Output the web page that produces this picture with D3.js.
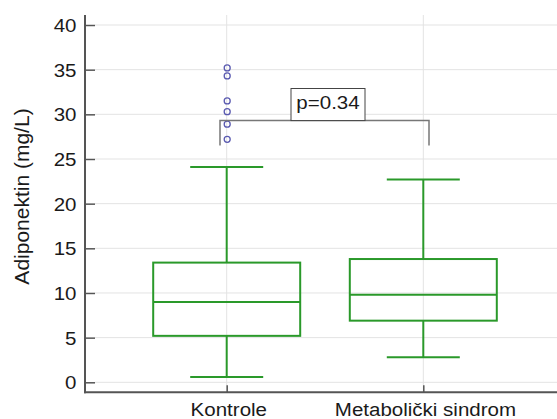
<!DOCTYPE html>
<html><head><meta charset="utf-8">
<script src="https://cdn.jsdelivr.net/npm/d3@7"></script>
<style>body{margin:0;background:#fff}svg{display:block}text{font-family:"Liberation Sans",Arial,sans-serif}</style>
</head><body>
<svg id="c" width="557" height="419"></svg>
<script>
const categories = ["Kontrole", "Metabolički sindrom"];
const whiskerLow = [0.6, 2.8];
const q1 = [5.2, 6.9];
const median = [9.0, 9.8];
const q3 = [13.4, 13.8];
const whiskerHigh = [24.1, 22.7];
const outliersKontrole = [35.2, 34.3, 31.5, 30.3, 28.9, 27.2];
const yTicks = [0, 5, 10, 15, 20, 25, 30, 35, 40];
const pLabel = "p=0.34";
const bracketTop = 29.3, bracketBottom = 26.5;

(function () {
const svg = d3.select("#c");
const y = d3.scaleLinear().domain([0, 40]).range([382.3, 25]);
const x = d3.scalePoint().domain(categories).range([226.7, 423.3]);
const pLeft = 85, pRight = 557, pBottom = 392.3, pTop = 15;
const fs = 19, sx = 1.08, txt = "#1a1a1a";

// grid
svg.append("g").selectAll("line").data(yTicks).join("line")
  .attr("x1", 95).attr("x2", pRight).attr("y1", d => y(d)).attr("y2", d => y(d))
  .attr("stroke", "#e3e3e3").attr("stroke-width", 1);
svg.append("g").selectAll("line").data(categories).join("line")
  .attr("x1", d => x(d)).attr("x2", d => x(d)).attr("y1", pTop).attr("y2", pBottom)
  .attr("stroke", "#e3e3e3").attr("stroke-width", 1);

// axes
const yAxis = svg.append("g").attr("transform", `translate(${pLeft},0)`)
  .call(d3.axisRight(y).tickValues(yTicks).tickSize(10).tickFormat(d3.format("d")));
yAxis.select(".domain").remove();
yAxis.selectAll(".tick line").attr("stroke", "#555").attr("stroke-width", 1.5);
yAxis.selectAll(".tick text").attr("x", -8.5 / sx).attr("text-anchor", "end")
  .attr("transform", `scale(${sx},1)`)
  .attr("font-size", fs).attr("fill", txt).attr("dy", "0.35em");
svg.append("line").attr("x1", pLeft).attr("x2", pLeft).attr("y1", pTop).attr("y2", pBottom + 1)
  .attr("stroke", "#555").attr("stroke-width", 2);

const xAxis = svg.append("g").attr("transform", `translate(0,${pBottom})`)
  .call(d3.axisTop(x).tickSize(7));
xAxis.select(".domain").remove();
xAxis.selectAll(".tick line").attr("stroke", "#555").attr("stroke-width", 1.5);
xAxis.selectAll(".tick text").attr("y", 24).attr("dy", 0).attr("x", 1.5)
  .attr("transform", `scale(${sx},1)`)
  .attr("font-size", fs).attr("fill", txt);
svg.append("line").attr("x1", pLeft - 1).attr("x2", pRight).attr("y1", pBottom).attr("y2", pBottom)
  .attr("stroke", "#555").attr("stroke-width", 2);

// y label
svg.append("text").attr("transform", "translate(28.5,196.5) rotate(-90)")
  .attr("text-anchor", "middle").attr("font-size", 21).attr("fill", txt)
  .text("Adiponektin (mg/L)");

// boxes
const green = "#2a992a";
const boxHalf = 73.5, capHalf = 36.5;
const g = svg.append("g").attr("stroke", green).attr("stroke-width", 2).attr("fill", "none");
categories.forEach((c, i) => {
  const cx = x(c);
  g.append("line").attr("x1", cx).attr("x2", cx).attr("y1", y(whiskerLow[i])).attr("y2", y(q1[i]));
  g.append("line").attr("x1", cx).attr("x2", cx).attr("y1", y(q3[i])).attr("y2", y(whiskerHigh[i]));
  g.append("line").attr("x1", cx - capHalf).attr("x2", cx + capHalf).attr("y1", y(whiskerLow[i])).attr("y2", y(whiskerLow[i]));
  g.append("line").attr("x1", cx - capHalf).attr("x2", cx + capHalf).attr("y1", y(whiskerHigh[i])).attr("y2", y(whiskerHigh[i]));
  g.append("rect").attr("x", cx - boxHalf).attr("width", boxHalf * 2)
    .attr("y", y(q3[i])).attr("height", y(q1[i]) - y(q3[i]));
  g.append("line").attr("x1", cx - boxHalf).attr("x2", cx + boxHalf).attr("y1", y(median[i])).attr("y2", y(median[i]));
});

// outliers
svg.append("g").selectAll("circle").data(outliersKontrole).join("circle")
  .attr("cx", x(categories[0]) + 0.5).attr("cy", d => y(d)).attr("r", 3)
  .attr("fill", "none").attr("stroke", "#5a5ab0").attr("stroke-width", 1.3);

// bracket
const bx1 = 220, bx2 = 429;
svg.append("path")
  .attr("d", `M${bx1},${y(bracketBottom)}V${y(bracketTop)}H${bx2}V${y(bracketBottom)}`)
  .attr("fill", "none").attr("stroke", "#777").attr("stroke-width", 1.5);
const lbl = svg.append("g");
lbl.append("rect").attr("x", 291).attr("y", 88.5).attr("width", 74).attr("height", y(bracketTop) - 88.5)
  .attr("fill", "#fff").attr("stroke", "#444").attr("stroke-width", 1);
lbl.append("text").attr("transform", `translate(328,108.5) scale(${sx},1)`).attr("text-anchor", "middle")
  .attr("font-size", fs).attr("fill", txt).text(pLabel);
})();
</script>
</body></html>
